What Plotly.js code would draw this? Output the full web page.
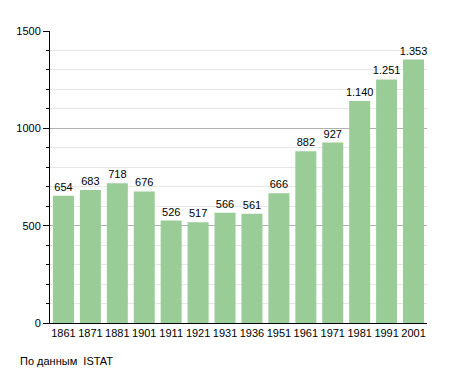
<!DOCTYPE html>
<html>
<head>
<meta charset="utf-8">
<script src="https://cdn.plot.ly/plotly-3.0.1.min.js"></script>
<style>html,body{margin:0;padding:0;background:#fff;}#chart{width:455px;height:373px;}</style>
</head>
<body>
<div id="chart"></div>
<script>
var years = ["1861","1871","1881","1901","1911","1921","1931","1936","1951","1961","1971","1981","1991","2001"];
var population = [654,683,718,676,526,517,566,561,666,882,927,1140,1251,1353];
var labels = ["654","683","718","676","526","517","566","561","666","882","927","1.140","1.251","1.353"];
var tickVals = [0,500,1000,1500];
var sourceNote = "По данным  ISTAT";

var trace = {
  type: "bar",
  x: years,
  y: population,
  text: labels,
  textposition: "outside",
  constraintext: "none",
  cliponaxis: false,
  textfont: {family: "Liberation Sans, Arial, sans-serif", size: 11, color: "#000"},
  marker: {color: "#9acc98", line: {width: 0}},
  hoverinfo: "none"
};

var layout = {
  width: 455, height: 373,
  margin: {l: 50, r: 28, t: 31, b: 50},
  paper_bgcolor: "#fff", plot_bgcolor: "#fff",
  bargap: 0.22,
  showlegend: false,
  font: {family: "Liberation Sans, Arial, sans-serif", size: 11, color: "#000"},
  xaxis: {
    type: "category",
    showline: true, linecolor: "#000", linewidth: 1,
    ticks: "", showgrid: false,
    tickfont: {size: 11}
  },
  yaxis: {
    range: [0, 1500],
    tickvals: tickVals,
    ticktext: tickVals.map(String),
    showline: true, linecolor: "#000", linewidth: 1,
    ticks: "outside", ticklen: 6, tickcolor: "#000",
    showgrid: true, gridcolor: "#b0b0b0", gridwidth: 1,
    zeroline: false,
    tickfont: {size: 11},
    minor: {dtick: 100, tick0: 0, ticks: "outside", ticklen: 3, tickcolor: "#000", showgrid: true, gridcolor: "#e6e6e6", gridwidth: 1}
  },
  annotations: [{
    text: sourceNote, xref: "paper", yref: "paper",
    x: -32/377, y: -38/292, xanchor: "left", yanchor: "middle",
    showarrow: false, font: {size: 11, color: "#000"}
  }]
};

Plotly.newPlot("chart", [trace], layout, {staticPlot: true});
</script>
</body>
</html>
